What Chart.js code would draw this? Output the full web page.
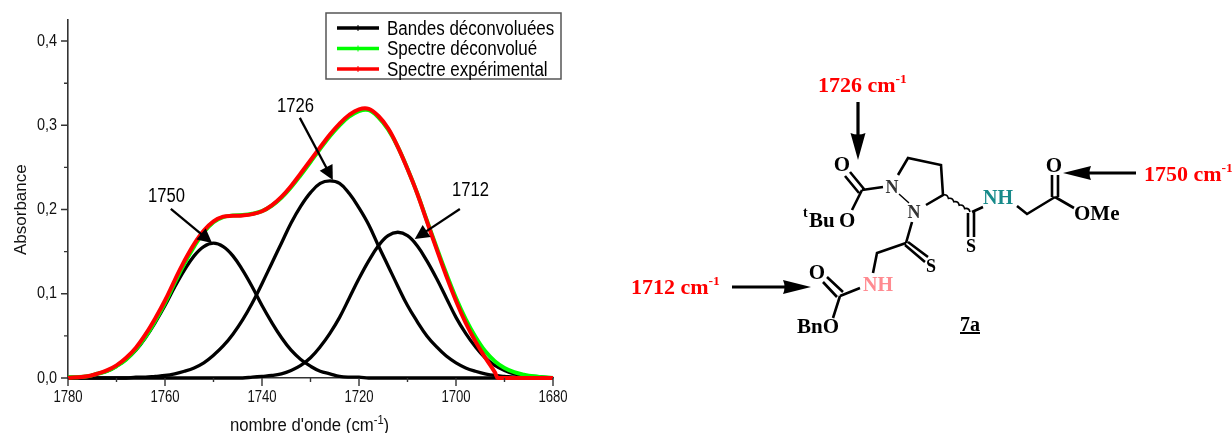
<!DOCTYPE html>
<html>
<head>
<meta charset="utf-8">
<title>Spectre déconvolué 7a</title>
<script src="https://cdn.jsdelivr.net/npm/chart.js@4/dist/chart.umd.min.js"></script>
<style>
  html, body { margin: 0; padding: 0; background: #fff; }
  #wrap { position: relative; width: 1232px; height: 433px; overflow: hidden; }
  #spectre { position: absolute; left: 0; top: 0; }
  #molecule { position: absolute; left: 0; top: 0; pointer-events: none; }
  #molecule text { font-family: "Liberation Serif", serif; font-weight: bold; }
  #molecule .bond { stroke: #000; stroke-width: 2.6; fill: none; }
</style>
</head>
<body>
<div id="wrap">
  <canvas id="spectre" width="1232" height="433"></canvas>
  <svg id="molecule" width="1232" height="433" viewBox="0 0 1232 433">
    <!-- wavenumber callouts -->
    <g fill="#ff0000" font-size="22">
      <text x="818" y="92">1726 cm<tspan dy="-9" font-size="13.5">-1</tspan></text>
      <text x="631" y="294">1712 cm<tspan dy="-9" font-size="13.5">-1</tspan></text>
      <text x="1144" y="181">1750 cm<tspan dy="-9" font-size="13.5">-1</tspan></text>
    </g>
    <g stroke="#000" stroke-width="3.2">
      <path d="M858 102V136M732 287H786M1136 173H1088" />
    </g>
    <path d="M858 160L850.500 133Q858 136 865.500 133Z M811 287L783 280Q786 287 783 294Z M1063 173L1091 166Q1088 173 1091 180Z" fill="#000" />
    <!-- bonds -->
    <path class="bond" d="M864 189L850 172M859 193L845 176M862 190L883 187M862 190L852 210
      M898 175L908 158L941 165L943 195L926 205
      M968 213V237M974 212V237M972 212L983 207M1017 206L1027 214L1055 197
      M1052 197V175M1058 197V175M1055 197L1074 208
      M912 222L906 243M908 242L928 257M905 245L925 262M906 243L877 253L873 273
      M860 288L840 296M843 292L827 277M837 297L823 282M840 296L833 318" />
    <path class="bond" style="stroke-width:1.4" d="M899 194L909 203" />
    <path class="bond" style="stroke-width:1.6" d="M943 195q4.4 -1 5.4 3.4q4.4 -1 5.4 3.4q4.4 -1 5.4 3.4q4.4 -1 5.4 3.4q4.4 -1 5.4 3.4" />
    <!-- atom labels -->
    <g fill="#000" font-size="21">
      <text x="842" y="171" text-anchor="middle">O</text>
      <text x="803" y="217" font-size="14">t</text>
      <text x="809" y="227">Bu</text>
      <text x="839" y="227">O</text>
      <text x="817" y="279" text-anchor="middle">O</text>
      <text x="797" y="333">BnO</text>
      <text x="1054" y="172" text-anchor="middle">O</text>
      <text x="1074" y="220">OMe</text>
      <text x="971" y="252" text-anchor="middle" font-size="18">S</text>
      <text x="931" y="272" text-anchor="middle" font-size="18">S</text>
      <text x="892" y="193" text-anchor="middle" font-size="18" fill="#333">N</text>
      <text x="914" y="218" text-anchor="middle" font-size="18" fill="#333">N</text>
    </g>
    <text x="983" y="204" font-size="20" fill="#178a8a">NH</text>
    <text x="863" y="291" font-size="20" fill="#ff8a90">NH</text>
    <text x="960" y="331" font-size="20" fill="#000" text-decoration="underline">7a</text>
  </svg>
</div>

<script>
  // wavenumbers in cm-1, read every 2 units
  const wavenumbers = [
    1780, 1778, 1776, 1774, 1772, 1770, 1768, 1766, 1764, 1762, 1760, 1758, 1756, 1754, 1752, 1750, 1748,
    1746, 1744, 1742, 1740, 1738, 1736, 1734, 1732, 1730, 1728, 1726, 1724, 1722, 1720, 1718, 1716, 1714,
    1712, 1710, 1708, 1706, 1704, 1702, 1700, 1698, 1696, 1694, 1692, 1690, 1688, 1686, 1684, 1682, 1680
  ];
  // the measured curve is cut to zero near 1691
  const wavenumbersExp = [
    1780, 1778, 1776, 1774, 1772, 1770, 1768, 1766, 1764, 1762, 1760, 1758, 1756, 1754, 1752, 1750, 1748,
    1746, 1744, 1742, 1740, 1738, 1736, 1734, 1732, 1730, 1728, 1726, 1724, 1722, 1720, 1718, 1716, 1714,
    1712, 1710, 1708, 1706, 1704, 1702, 1700, 1698, 1696, 1694, 1692, 1691.3, 1688, 1686, 1684, 1682, 1680
  ];

  const band1750 = [
    .001, .001, .002, .005, .008, .014, .022, .033, .048, .066, .086, .108, .128, .145, .156, .160, .156,
    .145, .128, .108, .086, .066, .048, .033, .022, .014, .008, .005, .002, .001, .001, 0, 0, 0,
    0, 0, 0, 0, 0, 0, 0, 0, 0, 0, 0, 0, 0, 0, 0, 0, 0
  ];
  const band1726 = [
    0, 0, 0, 0, 0, 0, 0, .001, .001, .002, .003, .005, .008, .012, .018, .027, .038,
    .052, .069, .089, .112, .136, .160, .184, .204, .220, .231, .234, .231, .219, .202, .182, .157, .133,
    .109, .086, .067, .050, .037, .026, .018, .012, .008, .005, .003, .002, .001, .001, 0, 0, 0
  ];
  const band1712 = [
    0, 0, 0, 0, 0, 0, 0, 0, 0, 0, 0, 0, 0, 0, 0, 0, 0,
    0, 0, .001, .002, .003, .005, .009, .015, .024, .037, .053, .072, .095, .118, .139, .157, .169,
    .173, .169, .157, .139, .118, .095, .072, .053, .037, .024, .015, .009, .005, .003, .002, .001, 0
  ];
  const spectreDeconvolue = [
    .001, .001, .002, .005, .008, .014, .022, .034, .049, .068, .089, .113, .136, .156, .173, .185, .191,
    .193, .1935, .195, .198, .2045, .214, .2265, .241, .2565, .272, .287, .300, .3105, .317, .318, .3095, .295,
    .2745, .2485, .2195, .187, .155, .124, .095, .070, .049, .032, .020, .012, .007, .004, .002, .001, 0
  ];
  const spectreExperimental = [
    0, .001, .002, .005, .009, .015, .024, .036, .052, .071, .092, .116, .139, .159, .175, .186, .1915,
    .1925, .193, .1945, .198, .205, .215, .228, .243, .2585, .274, .289, .302, .3125, .319, .3195, .311, .2965,
    .2745, .248, .219, .186, .153, .121, .0915, .0655, .0435, .0245, .007, 0, 0, 0, 0, 0, 0
  ];

  // peak callouts inside the plot: label position, arrow start, arrow tip (wavenumber, absorbance)
  const peakLabels = ["1750", "1726", "1712"];
  const peakLabelAt = [[1763.5, .209], [1736.9, .316], [1700.8, .2162]];
  const peakArrowFrom = [[1758.8, .2007], [1732.2, .3088], [1699.2, .2007]];
  const peakArrowTo = [[1750.3, .1603], [1725.4, .2352], [1708.5, .1651]];

  const SANS = '"Liberation Sans", Arial, sans-serif';
  const TEXT_COLOR = "#111";

  const points = (xs, ys) => xs.map((x, i) => ({ x: x, y: ys[i] }));

  const curve = (label, xs, ys, color, width, order) => ({
    label: label,
    data: points(xs, ys),
    borderColor: color,
    backgroundColor: color,
    borderWidth: width,
    pointRadius: 0,
    tension: 0.4,
    clip: false,
    order: order,
  });

  // the original figure is squeezed horizontally, fillText maxWidth does the same thing
  function squeezedText(ctx, text, x, y, factor) {
    const w = ctx.measureText(text).width;
    ctx.fillText(text, x, y, w * factor);
    return w * factor;
  }

  // minor and major ticks plus their labels, Chart.js only has one tick length per axis
  const axisTicks = {
    id: "axisTicks",
    afterDatasetsDraw(chart) {
      const ctx = chart.ctx;
      const { x, y } = chart.scales;
      ctx.save();
      ctx.strokeStyle = "#333";
      ctx.fillStyle = TEXT_COLOR;
      ctx.lineWidth = 1.4;
      ctx.beginPath();
      x.ticks.forEach((t) => {
        const px = x.getPixelForValue(t.value);
        ctx.moveTo(px, y.bottom);
        ctx.lineTo(px, y.bottom + (t.label ? 8 : 4));
      });
      y.ticks.forEach((t) => {
        const py = y.getPixelForValue(t.value);
        ctx.moveTo(x.left, py);
        ctx.lineTo(x.left - (t.label ? 7 : 4), py);
      });
      ctx.stroke();

      ctx.font = "16px " + SANS;
      ctx.textAlign = "center";
      ctx.textBaseline = "alphabetic";
      x.ticks.forEach((t) => {
        if (t.label) squeezedText(ctx, t.label, x.getPixelForValue(t.value), y.bottom + 24, 0.82);
      });
      ctx.font = "17px " + SANS;
      ctx.textAlign = "right";
      ctx.textBaseline = "middle";
      y.ticks.forEach((t) => {
        if (t.label) squeezedText(ctx, t.label, x.left - 11, y.getPixelForValue(t.value), 0.85);
      });
      ctx.restore();
    },
  };

  // axis titles, drawn here for the real superscript in cm-1
  const axisTitles = {
    id: "axisTitles",
    afterDraw(chart) {
      const ctx = chart.ctx;
      ctx.save();
      ctx.fillStyle = TEXT_COLOR;
      ctx.textAlign = "left";
      ctx.textBaseline = "alphabetic";
      ctx.font = "18px " + SANS;
      let tx = 230;
      tx += squeezedText(ctx, "nombre d'onde (cm", tx, 431, 0.93);
      ctx.font = "12px " + SANS;
      tx += squeezedText(ctx, "-1", tx, 424, 0.93);
      ctx.font = "18px " + SANS;
      squeezedText(ctx, ")", tx, 431, 0.93);

      ctx.translate(26, 255);
      ctx.rotate(-Math.PI / 2);
      ctx.font = "17px " + SANS;
      ctx.fillText("Absorbance", 0, 0);
      ctx.restore();
    },
  };

  const peakCallouts = {
    id: "peakCallouts",
    afterDatasetsDraw(chart) {
      const ctx = chart.ctx;
      const { x, y } = chart.scales;
      ctx.save();
      ctx.fillStyle = "#000";
      ctx.strokeStyle = "#000";
      ctx.font = "20px " + SANS;
      ctx.textBaseline = "alphabetic";
      peakLabels.forEach((text, i) => {
        squeezedText(ctx, text, x.getPixelForValue(peakLabelAt[i][0]), y.getPixelForValue(peakLabelAt[i][1]), 0.83);
        const x0 = x.getPixelForValue(peakArrowFrom[i][0]);
        const y0 = y.getPixelForValue(peakArrowFrom[i][1]);
        const x1 = x.getPixelForValue(peakArrowTo[i][0]);
        const y1 = y.getPixelForValue(peakArrowTo[i][1]);
        const a = Math.atan2(y1 - y0, x1 - x0);
        ctx.lineWidth = 2.3;
        ctx.beginPath();
        ctx.moveTo(x0, y0);
        ctx.lineTo(x1 - 10 * Math.cos(a), y1 - 10 * Math.sin(a));
        ctx.stroke();
        ctx.beginPath();
        ctx.moveTo(x1, y1);
        ctx.lineTo(x1 - 16 * Math.cos(a - 0.47), y1 - 16 * Math.sin(a - 0.47));
        ctx.lineTo(x1 - 16 * Math.cos(a + 0.47), y1 - 16 * Math.sin(a + 0.47));
        ctx.closePath();
        ctx.fill();
      });
      ctx.restore();
    },
  };

  // legend box sits over the plot, the built-in one would take layout space
  const boxLegend = {
    id: "boxLegend",
    afterDraw(chart) {
      const ctx = chart.ctx;
      const seen = [];
      chart.data.datasets.forEach((d) => {
        if (!seen.find((s) => s.label === d.label)) seen.push(d);
      });
      ctx.save();
      ctx.fillStyle = "#fff";
      ctx.fillRect(326, 13, 235, 66);
      ctx.strokeStyle = "#555";
      ctx.lineWidth = 1.5;
      ctx.strokeRect(326, 13, 235, 66);
      ctx.font = "20px " + SANS;
      ctx.textBaseline = "middle";
      seen.forEach((d, i) => {
        const ly = 28 + i * 20.5;
        ctx.strokeStyle = d.borderColor;
        ctx.lineWidth = 3.5;
        ctx.beginPath();
        ctx.moveTo(337, ly);
        ctx.lineTo(379, ly);
        ctx.stroke();
        ctx.lineWidth = 1;
        ctx.beginPath();
        ctx.moveTo(358, ly - 3);
        ctx.lineTo(358, ly + 3);
        ctx.stroke();
        ctx.fillStyle = "#000";
        squeezedText(ctx, d.label, 387, ly + 1, 0.85);
      });
      ctx.restore();
    },
  };

  new Chart(document.getElementById("spectre"), {
    type: "line",
    data: {
      datasets: [
        curve("Bandes déconvoluées", wavenumbers, band1750, "#000000", 3.3, 3),
        curve("Bandes déconvoluées", wavenumbers, band1726, "#000000", 3.3, 3),
        curve("Bandes déconvoluées", wavenumbers, band1712, "#000000", 3.3, 3),
        curve("Spectre déconvolué", wavenumbers, spectreDeconvolue, "#00ff00", 4, 2),
        curve("Spectre expérimental", wavenumbersExp, spectreExperimental, "#ff0000", 4, 1),
      ],
    },
    options: {
      responsive: false,
      animation: false,
      layout: { padding: { top: 20, right: 679, left: 0, bottom: 0 } },
      plugins: { legend: { display: false }, tooltip: { enabled: false } },
      scales: {
        x: {
          type: "linear",
          reverse: true,
          min: 1680,
          max: 1780,
          afterFit: (s) => { s.height = 55; },
          grid: { display: false },
          border: { display: true, color: "#333", width: 1.6 },
          ticks: {
            display: false,
            stepSize: 10,
            autoSkip: false,
            callback: (v) => (v % 20 === 0 ? String(v) : ""),
          },
        },
        y: {
          min: 0,
          max: 0.425,
          afterFit: (s) => { s.width = 68; },
          grid: { display: false },
          border: { display: true, color: "#333", width: 1.6 },
          ticks: {
            display: false,
            stepSize: 0.05,
            includeBounds: false,
            autoSkip: false,
            callback: (v) => (Math.round(v * 100) % 10 === 0 ? v.toFixed(1).replace(".", ",") : ""),
          },
        },
      },
    },
    plugins: [axisTicks, axisTitles, peakCallouts, boxLegend],
  });
</script>
</body>
</html>
